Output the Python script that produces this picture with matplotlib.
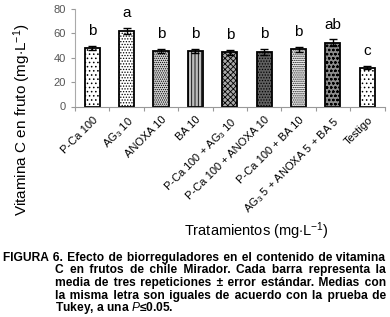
import matplotlib
matplotlib.use("Agg")
import matplotlib.pyplot as plt
import numpy as np

plt.rcParams['font.family'] = ['Liberation Sans', 'DejaVu Sans']
plt.rcParams['mathtext.fontset'] = 'custom'
plt.rcParams['mathtext.rm'] = 'Liberation Sans'
plt.rcParams['mathtext.it'] = 'Liberation Sans:italic'
plt.rcParams['mathtext.bf'] = 'Liberation Sans:bold'
plt.rcParams['hatch.linewidth'] = 0.6

categories = ["P-Ca 100", r"AG$_3$ 10", "ANOXA 10", "BA 10", r"P-Ca 100 + AG$_3$ 10",
              "P-Ca 100 + ANOXA 10", "P-Ca 100 + BA 10", r"AG$_3$ 5 + ANOXA 5 + BA 5", "Testigo"]
values = [48, 62, 45.5, 45.5, 44.5, 45, 47, 52.5, 32]
errors = [2.0, 2.5, 2.0, 2.0, 2.0, 2.5, 2.0, 2.5, 1.5]
letters = ["b", "a", "b", "b", "b", "b", "b", "ab", "c"]
yticks = [0, 20, 40, 60, 80]

faces = ['white', 'white', '#d4d4d4', '#bdbdbd', '#a8a8a8', '#606060', '#f0f0f0', '#8c8c8c', 'white']
hatches = ['....', '......', '........', '|||||', 'xxxxxx', '......', '........', 'oooo', '....']

W, H = 390, 317
fig = plt.figure(figsize=(W / 100, H / 100), dpi=100)
ax = fig.add_axes([75 / W, 1 - 106.5 / H, (384.5 - 75) / W, (106.5 - 9) / H])

x = np.arange(len(categories))
bars = ax.bar(x, values, width=0.44, color=faces, edgecolor='black', linewidth=1.3, zorder=2)
for b, h in zip(bars, hatches):
    b.set_hatch(h)
ax.errorbar(x, values, yerr=errors, fmt='none', ecolor='black', elinewidth=1.0,
            capsize=3, capthick=1.0, zorder=3)
for xi, v, e, t in zip(x, values, errors, letters):
    ax.annotate(t, (xi, v + e), xytext=(0, 7.5), textcoords='offset points',
                ha='center', va='baseline', fontsize=11)

ax.set_xlim(-0.5, len(categories) - 0.5)
ax.set_ylim(0, 80)
ax.set_yticks(yticks)
ax.tick_params(axis='y', labelsize=8, labelcolor='#555555', color='#999999', length=3, width=0.8)
ax.set_xticks(x)
ax.set_xticklabels(categories, rotation=45, ha='right', rotation_mode='anchor', fontsize=8)
ax.tick_params(axis='x', length=0, pad=6)
ax.set_xticks(np.arange(len(categories) + 1) - 0.5, minor=True)
ax.tick_params(axis='x', which='minor', length=3, color='#999999', width=0.8)
for s in ['top', 'right']:
    ax.spines[s].set_visible(False)
ax.spines['left'].set_color('#aaaaaa')
ax.spines['bottom'].set_color('#999999')
ax.spines['left'].set_linewidth(0.8)
ax.spines['bottom'].set_linewidth(0.8)

fig.text(22 / W, 1 - 120 / H, r"Vitamina C en fruto (mg$\cdot$L$^{-1}$)", rotation=90,
         ha='center', va='center', fontsize=11)
fig.text(256 / W, 1 - 231 / H, r"Tratamientos (mg$\cdot$L$^{-1}$)", ha='center', va='center',
         fontsize=10.5)

# caption (justified by padding spaces)
cap_lines = [
    ("FIGURA 6. Efecto de biorreguladores en el contenido de vitamina", 3, True),
    ("C en frutos de chile Mirador. Cada barra representa la", 55, True),
    ("media de tres repeticiones ± error estándar. Medias con", 55, True),
    ("la misma letra son iguales de acuerdo con la prueba de", 55, True),
    ("Tukey, a una $\\mathit{P}$≤0.05.", 55, False),
]
right_px = 386
base0, step = 261, 12.5
renderer = fig.canvas.get_renderer()


def text_w(s, fs):
    t = fig.text(0, 0, s, fontsize=fs, fontweight='bold')
    w = t.get_window_extent(renderer).width
    t.remove()
    return w


cap_fs = 10 * 372 / text_w(cap_lines[0][0], 10)
space_w = (text_w("a" + " " * 10 + "a", cap_fs) - text_w("aa", cap_fs)) / 10
hair_w = (text_w("a" + "\u200a" * 10 + "a", cap_fs) - text_w("aa", cap_fs)) / 10
for i, (line, x0, just) in enumerate(cap_lines):
    yb = 1 - (base0 + i * step) / H
    s = line
    if just:
        words = line.split(' ')
        widths = [text_w(w, cap_fs) for w in words]
        gap = (right_px - x0 - sum(widths)) / (len(words) - 1)
        parts = [words[0]]
        target = 0.0
        used = 0.0
        for w in words[1:]:
            target += gap
            need = target - used
            n = max(1, int(need // space_w))
            rem = need - n * space_w
            k = int(round(rem / hair_w)) if hair_w > 0.2 else 0
            k = max(0, k)
            used += n * space_w + k * hair_w
            parts.append(' ' * n + '\u200a' * k + w)
        s = ''.join(parts)
    fig.text(x0 / W, yb, s, fontsize=cap_fs, fontweight='bold', va='baseline', ha='left')

fig.savefig("out.png", dpi=100)
